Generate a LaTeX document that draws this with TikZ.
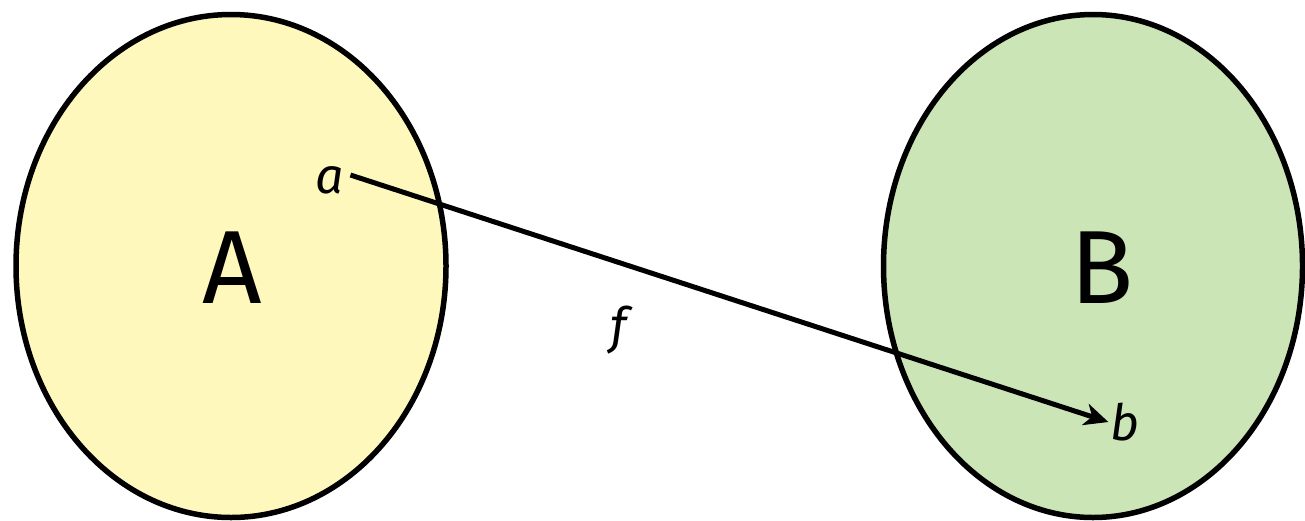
\documentclass[tikz,border=0pt]{standalone}
\usepackage{fontspec}
\setmainfont{Fira Sans}
\usetikzlibrary{shapes.geometric,arrows.meta}
\definecolor{setyellow}{HTML}{FFF8BC}
\definecolor{setgreen}{HTML}{CCE5B7}
\tikzset{
  setshape/.style={ellipse, draw=black, line width=5.5pt, inner sep=0pt},
  setname/.style={font=\fontsize{104}{104}\selectfont, inner sep=0pt},
  elem/.style={font=\fontsize{50}{50}\selectfont\itshape, inner sep=2pt},
  maparrow/.style={line width=5pt, -{Stealth[length=24pt,width=22pt,inset=7pt]}},
}
\begin{document}
\begin{tikzpicture}[x=1pt,y=-1pt]
\useasboundingbox (0,0) rectangle (1305,520);
\node[setshape, fill=setyellow, minimum width=430pt, minimum height=503pt] (SA) at (231,266) {};
\node[setshape, fill=setgreen, minimum width=419pt, minimum height=503pt] (SB) at (1093,266) {};
\node[setname] (LA) at (232,268) {A};
\node[setname] (LB) at (1102,268) {B};
\node[elem] (a) at (330,180) {a};
\node[elem] (b) at (1125,422) {b};
\node[elem] (f) at (619,330) {f};
\draw[maparrow] (a.east) ++(4pt,5pt) coordinate (as) -- (b.west);
\end{tikzpicture}
\end{document}
